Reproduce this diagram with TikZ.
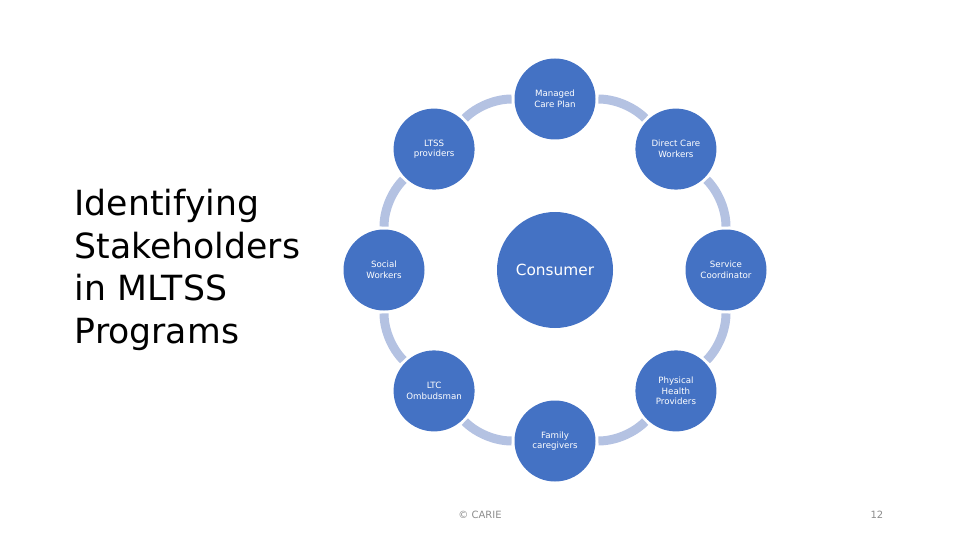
\documentclass[tikz,border=0pt]{standalone}
\usepackage{fontspec}
\setmainfont{DejaVu Sans}
\usepackage{xcolor}
\usetikzlibrary{positioning,calc}
\definecolor{nodeblue}{HTML}{4472C4}
\definecolor{ringblue}{HTML}{B4C2E2}
\definecolor{footgray}{HTML}{8C8C8C}
\tikzset{
  stake/.style={circle, fill=nodeblue, minimum size=60.75pt, inner sep=0pt,
    text=white, align=center, font=\fontsize{6.5}{8}\selectfont},
  hub/.style={circle, fill=nodeblue, minimum size=87pt, inner sep=0pt,
    text=white, font=\fontsize{11.5}{14}\selectfont},
  ring/.style={draw=ringblue, line width=6.75pt, bend left=22.5, looseness=0.885,
    shorten >=2pt, shorten <=2pt},
  foot/.style={text=footgray, font=\fontsize{7.5}{9}\selectfont},
}
\begin{document}
\begin{tikzpicture}[x=0.75pt, y=0.75pt]
	\useasboundingbox (0,0) rectangle (960,540);
	\node [anchor=west, align=left, font=\fontsize{26}{32}\selectfont] (title) at (70,270)
		{Identifying\\Stakeholders\\in MLTSS\\Programs};
	\node [hub] (cons) at (555,270) {Consumer};
	\node [stake] (mcp) at ($(cons)+(90:171)$) {Managed\\Care Plan};
	\node [stake] (dcw) at ($(cons)+(45:171)$) {Direct Care\\Workers};
	\node [stake] (sc) at ($(cons)+(0:171)$) {Service\\Coordinator};
	\node [stake] (php) at ($(cons)+(-45:171)$) {Physical\\Health\\Providers};
	\node [stake] (fam) at ($(cons)+(-90:171)$) {Family\\caregivers};
	\node [stake] (ltc) at ($(cons)+(-135:171)$) {LTC\\Ombudsman};
	\node [stake] (sw) at ($(cons)+(180:171)$) {Social\\Workers};
	\node [stake] (ltss) at ($(cons)+(135:171)$) {LTSS\\providers};
	\draw [ring] (mcp) to (dcw);
	\draw [ring] (dcw) to (sc);
	\draw [ring] (sc) to (php);
	\draw [ring] (php) to (fam);
	\draw [ring] (fam) to (ltc);
	\draw [ring] (ltc) to (sw);
	\draw [ring] (sw) to (ltss);
	\draw [ring] (ltss) to (mcp);
	\node [foot] (copy) at (480,25) {© CARIE};
	\node [foot, anchor=east] (page) at (888,25) {12};
\end{tikzpicture}
\end{document}
